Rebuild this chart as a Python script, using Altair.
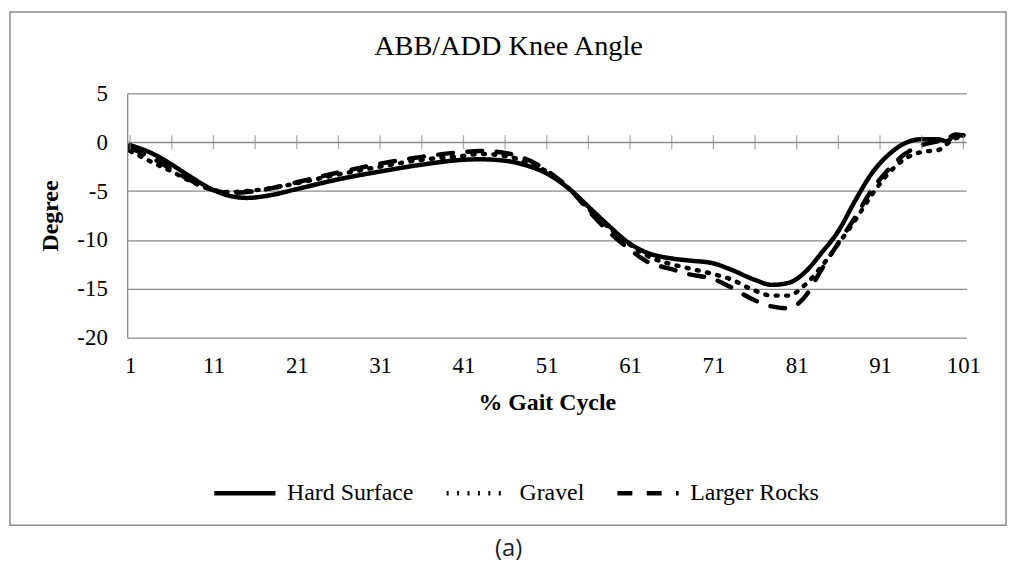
import altair as alt
import pandas as pd

# ---- data ----
gait_cycle = [1, 4, 6, 8, 11, 13, 15, 18, 21, 26, 31, 36, 41, 43, 46, 49, 51, 54, 56, 58,
              61, 63, 66, 68, 71, 73, 76, 78, 80, 82, 84, 86, 88, 90, 92, 94, 96, 98, 99, 100, 101]
hard_surface = [-0.3, -1.3, -2.3, -3.4, -4.9, -5.5, -5.7, -5.4, -4.8, -3.8, -3.0, -2.3, -1.8, -1.75,
                -1.9, -2.5, -3.2, -5.0, -6.6, -8.2, -10.4, -11.3, -11.9, -12.1, -12.4, -13.0, -14.1,
                -14.6, -14.4, -13.3, -11.3, -9.1, -6.0, -3.2, -1.3, -0.1, 0.3, 0.3, 0.1, 0.7, 0.7]
gravel = [-0.9, -2.2, -3.0, -3.9, -4.9, -5.1, -5.0, -4.7, -4.2, -3.3, -2.5, -1.8, -1.4, -1.2,
          -1.4, -2.2, -3.0, -5.0, -6.8, -8.4, -10.5, -11.6, -12.5, -12.9, -13.5, -14.0, -15.2,
          -15.7, -15.7, -14.6, -12.7, -10.4, -8.0, -5.4, -3.2, -1.7, -1.0, -0.8, -0.2, 0.4, 0.5]
larger_rocks = [-0.6, -1.8, -2.8, -3.8, -4.9, -5.2, -5.1, -4.7, -4.1, -3.1, -2.2, -1.5, -1.0, -0.9,
                -1.1, -1.9, -2.9, -5.0, -7.0, -8.8, -11.0, -12.2, -13.0, -13.5, -14.0, -14.8, -16.2,
                -16.8, -17.0, -15.8, -13.0, -10.3, -7.7, -4.9, -2.8, -1.2, -0.3, 0.1, 0.3, 0.8, 0.7]
series_names = ["Hard Surface", "Gravel", "Larger Rocks"]
x_tick_positions = list(range(1, 102, 5))
x_label_positions = list(range(1, 102, 10))
y_tick_values = [5, 0, -5, -10, -15, -20]
chart_title = "ABB/ADD Knee Angle"
caption_text = "(a)"

rows = []
for name, vals in zip(series_names, [hard_surface, gravel, larger_rocks]):
    for g, v in zip(gait_cycle, vals):
        rows.append({"cycle": g, "degree": v, "surface": name})
df = pd.DataFrame(rows)

GRAY = "#8a8a8a"
SERIF = "Liberation Serif"
W, H = 845, 246

x_scale = alt.Scale(domain=[1, 101], nice=False, padding=3)
y_scale = alt.Scale(domain=[-20, 5], nice=False, zero=False)

lines = alt.Chart(df).mark_line(
    interpolate="monotone", strokeWidth=4.5, strokeCap="round", color="black"
).encode(
    x=alt.X("cycle:Q", scale=x_scale,
            axis=alt.Axis(values=x_label_positions, title="% Gait Cycle", grid=False, ticks=False,
                          domain=False, labelPadding=17, titlePadding=13,
                          labelExpr="datum.value")),
    y=alt.Y("degree:Q", scale=y_scale,
            axis=alt.Axis(values=y_tick_values, title="Degree", ticks=False, grid=True,
                          labelPadding=20, titlePadding=14, labelExpr="datum.value")),
    strokeDash=alt.StrokeDash(
        "surface:N",
        scale=alt.Scale(domain=series_names, range=[[1, 0], [2, 8.5], [15, 14.5]]),
        legend=alt.Legend(title=None, orient="none", legendX=85, legendY=369, direction="horizontal",
                          symbolType="stroke", symbolSize=3800, symbolStrokeWidth=4.5,
                          symbolStrokeColor="black", labelFont=SERIF, labelFontSize=24,
                          labelColor="black", labelOffset=9, columnPadding=23, labelLimit=300),
    ),
)

ticks = alt.Chart(pd.DataFrame({"cycle": x_tick_positions})).mark_tick(
    orient="vertical", size=14, thickness=1.3, color=GRAY
).encode(
    x=alt.X("cycle:Q", scale=x_scale),
    y=alt.datum(0),
)

frame = alt.Chart(pd.DataFrame({"a": [0]})).mark_rect(
    fillOpacity=0, stroke=GRAY, strokeWidth=1.5
).encode(x=alt.value(-118), x2=alt.value(885), y=alt.value(-82), y2=alt.value(435))

title_mark = alt.Chart(pd.DataFrame({"t": [chart_title]})).mark_text(
    font=SERIF, fontSize=28.5, color="black", baseline="middle", align="center"
).encode(text="t:N", x=alt.value(384), y=alt.value(-48))

caption = alt.Chart(pd.DataFrame({"t": [caption_text]})).mark_text(
    font="Open Sans", fontSize=24, color="#222222", baseline="middle", align="center"
).encode(text="t:N", x=alt.value(384), y=alt.value(459))

chart = alt.layer(lines, frame, ticks, title_mark, caption).properties(
    width=W, height=H,
    autosize=alt.AutoSizeParams(type="none"),
    padding={"left": 120, "top": 84, "right": 50, "bottom": 225},
).configure_view(stroke=None).configure_axis(
    gridColor=GRAY, gridWidth=1.3, domainColor=GRAY, domainWidth=1.3,
    labelFont=SERIF, titleFont=SERIF, labelFontSize=23, titleFontSize=24,
    titleFontWeight="bold", labelColor="black", titleColor="black"
)

chart.save("out.html", embed_options={"renderer": "svg", "actions": False})
